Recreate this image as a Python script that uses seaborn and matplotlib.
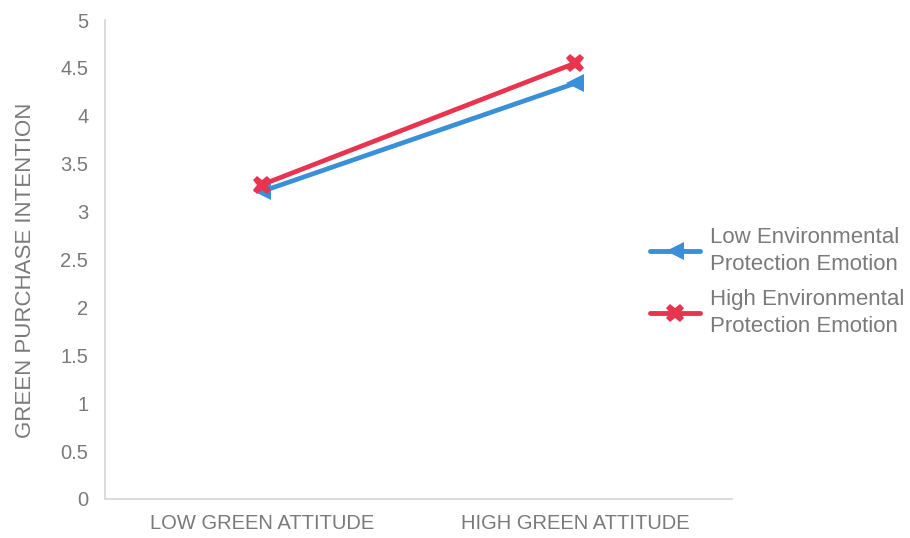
import matplotlib
matplotlib.use("Agg")
import matplotlib.pyplot as plt
import seaborn as sns
import pandas as pd

# Interaction of green attitude and environmental-protection emotion
attitude = ["LOW GREEN ATTITUDE", "HIGH GREEN ATTITUDE"]
emotion = ["Low Environmental\nProtection Emotion", "High Environmental\nProtection Emotion"]
low_emotion = [3.21, 4.34]
high_emotion = [3.28, 4.55]
y_ticks = [0, 0.5, 1, 1.5, 2, 2.5, 3, 3.5, 4, 4.5, 5]

df = pd.DataFrame({
    "attitude": attitude * 2,
    "intention": low_emotion + high_emotion,
    "emotion": [emotion[0]] * 2 + [emotion[1]] * 2,
})

sns.set_theme(style="white")
plt.rcParams["font.family"] = ["Liberation Sans", "DejaVu Sans"]

grey = "#7a7a7a"
palette = {emotion[0]: "#3a8fd9", emotion[1]: "#e8344e"}
markers = {emotion[0]: "<", emotion[1]: "X"}

fig = plt.figure(figsize=(9.1, 5.38), dpi=100)
ax = fig.add_axes([0.1154, 0.0725, 0.689, 0.8903])

sns.lineplot(data=df, x="attitude", y="intention", hue="emotion", style="emotion",
             palette=palette, markers=markers, dashes=False, linewidth=3.4,
             markersize=13, markeredgewidth=0, sort=False, ax=ax, legend=True)

ax.set_xlim(-0.5, 1.5)
ax.set_ylim(0, 5)
ax.set_yticks(y_ticks)
ax.set_yticklabels([f"{v:g}" for v in y_ticks])
ax.tick_params(axis="y", colors=grey, labelsize=14.5, length=0, pad=12)
ax.tick_params(axis="x", colors=grey, labelsize=14.5, length=0, pad=11)

ax.set_xlabel("")
ax.set_ylabel("GREEN PURCHASE INTENTION", color=grey, fontsize=16)
ax.yaxis.set_label_coords(-0.11, 0.478)

for side in ["top", "right"]:
    ax.spines[side].set_visible(False)
for side in ["left", "bottom"]:
    ax.spines[side].set_color("#d9d9d9")
    ax.spines[side].set_linewidth(1.3)

handles, labels = ax.get_legend_handles_labels()
ax.get_legend().remove()
leg = fig.legend(handles, labels, loc="center left", bbox_to_anchor=(0.714, 0.476),
                 frameon=False, fontsize=16, labelcolor=grey, handlelength=2.25,
                 handletextpad=0.45, labelspacing=0.65, borderaxespad=0.0, borderpad=0.0)
for t in leg.get_texts():
    t.set_linespacing(1.35)
for h in leg.legend_handles:
    h.set_linewidth(3.5)
    h.set_markersize(13)

fig.savefig("out.png", dpi=100, facecolor="white")
